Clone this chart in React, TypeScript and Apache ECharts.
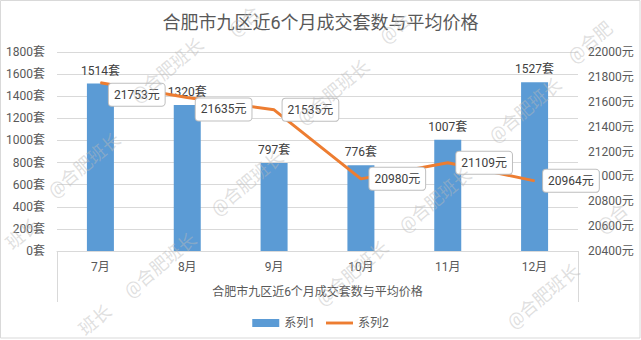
import React, { useEffect, useRef } from "react";
import * as echarts from "echarts";

const categories = ["7月", "8月", "9月", "10月", "11月", "12月"];
const units = [1514, 1320, 797, 776, 1007, 1527];
const prices = [21753, 21635, 21535, 20980, 21109, 20964];
const priceLabelOffsets = [[0, 12], [0, 12], [0, 0], [0, 0], [0, 0], [0, 0]];
const titleText = "合肥市九区近6个月成交套数与平均价格";
const axisNameText = "合肥市九区近6个月成交套数与平均价格";
const seriesNames = ["系列1", "系列2"];
const watermarks: [string, number, number][] = [
  ["@合肥班长", 167, 70],
  ["@合肥班长", 84, 165],
  ["班长", 22, 234],
  ["@合肥班长", 247, 183],
  ["@合肥班长", 333, 92],
  ["@合", 244, 21],
  ["@合", 395, 28],
  ["@合肥班长", 160, 265],
  ["班长", 95, 320],
  ["@合肥班长", 435, 200],
  ["@合肥班长", 352, 273],
  ["@合肥班长", 525, 110],
  ["@合肥", 590, 42],
  ["@合肥班长", 543, 296],
  ["@合", 612, 218],
];

const FONT = 'Roboto, "Noto Sans CJK SC", sans-serif';

export default function App() {
  const ref = useRef<HTMLDivElement>(null);
  useEffect(() => {
    if (!ref.current) return;
    const chart = echarts.init(ref.current, null, { renderer: "svg" });
    const wm = watermarks.map(([text, x, y]) => ({
      type: "text",
      x,
      y,
      rotation: (40 * Math.PI) / 180,
      z: 100,
      silent: true,
      style: {
        text,
        fontSize: 18,
        fontFamily: FONT,
        fill: "rgba(185,185,185,0.45)",
        align: "center",
        verticalAlign: "middle",
      },
    }));
    chart.setOption({
      animation: false,
      backgroundColor: "#ffffff",
      textStyle: { fontFamily: FONT },
      title: {
        text: titleText,
        left: "center",
        top: 13,
        padding: 0,
        textStyle: { fontSize: 18, fontWeight: "normal", color: "#595959", fontFamily: FONT },
      },
      grid: { left: 57, right: 63, top: 52, bottom: 89 },
      legend: {
        left: "center",
        top: 312,
        itemWidth: 27,
        itemHeight: 8,
        itemGap: 11,
        textStyle: { color: "#595959", fontSize: 12, fontFamily: FONT },
        data: [
          { name: seriesNames[0], icon: "rect" },
          { name: seriesNames[1], icon: "path://M0,0 L28,0 L28,3 L0,3 Z" },
        ],
      },
      xAxis: {
        type: "category",
        data: categories,
        name: axisNameText,
        nameLocation: "middle",
        nameGap: 35,
        nameTextStyle: { color: "#595959", fontSize: 12, fontFamily: FONT },
        axisTick: { show: false },
        axisLine: { lineStyle: { color: "#d9d9d9", width: 1 } },
        axisLabel: { color: "#595959", fontSize: 12, margin: 10 },
      },
      yAxis: [
        {
          type: "value",
          min: 0,
          max: 1800,
          interval: 200,
          axisLine: { show: false },
          axisTick: { show: false },
          axisLabel: {
            formatter: (v: number) => String(v) + "套",
            color: "#595959",
            fontSize: 12,
            margin: 12,
          },
          splitLine: { lineStyle: { color: "#d9d9d9", width: 1 } },
        },
        {
          type: "value",
          min: 20400,
          max: 22000,
          interval: 200,
          axisLine: { show: false },
          axisTick: { show: false },
          axisLabel: {
            formatter: (v: number) => String(v) + "元",
            color: "#595959",
            fontSize: 12,
            margin: 10,
          },
          splitLine: { show: false },
        },
      ],
      series: [
        {
          name: seriesNames[0],
          type: "bar",
          data: units,
          barWidth: 27,
          itemStyle: { color: "#5B9BD5" },
          label: {
            show: true,
            position: "top",
            distance: 7,
            formatter: (p: any) => String(p.value) + "套",
            color: "#404040",
            fontSize: 12,
          },
        },
        {
          name: seriesNames[1],
          type: "line",
          yAxisIndex: 1,
          data: prices.map((v, i) => ({ value: v, label: { offset: priceLabelOffsets[i] } })),
          symbol: "circle",
          symbolSize: 1,
          itemStyle: { color: "#ED7D31" },
          lineStyle: { color: "#ED7D31", width: 3 },
          z: 5,
          label: {
            show: true,
            position: "right",
            distance: 8,
            formatter: (p: any) => String(p.value) + "元",
            color: "#404040",
            fontSize: 12,
            lineHeight: 14,
            backgroundColor: "#ffffff",
            borderColor: "#bfbfbf",
            borderWidth: 1,
            borderRadius: 3,
            padding: [4, 5],
          },
        },
      ],
      graphic: [
        {
          type: "rect",
          shape: { x: 0.5, y: 0.5, width: 639.5, height: 337.5 },
          style: { fill: "none", stroke: "#d9d9d9", lineWidth: 1 },
          silent: true,
        },
        {
          type: "line",
          shape: { x1: 57.5, y1: 251, x2: 57.5, y2: 302 },
          style: { stroke: "#d9d9d9", lineWidth: 1 },
          silent: true,
        },
        {
          type: "line",
          shape: { x1: 578.5, y1: 251, x2: 578.5, y2: 302 },
          style: { stroke: "#d9d9d9", lineWidth: 1 },
          silent: true,
        },
        ...wm,
      ],
    });
    return () => chart.dispose();
  }, []);
  return (
    <div
      ref={ref}
      style={{ position: "absolute", left: 0, top: 0, width: 641, height: 340 }}
    />
  );
}
